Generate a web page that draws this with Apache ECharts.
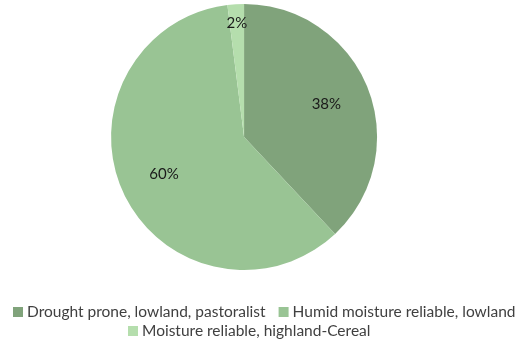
<!DOCTYPE html>
<html><head><meta charset="utf-8">
<script src="https://cdn.jsdelivr.net/npm/echarts@6/dist/echarts.min.js"></script>
<style>html,body{margin:0;padding:0;background:#fff}#c{width:516px;height:345px}</style>
</head><body><div id="c"></div>
<script>
const categories = ["Drought prone, lowland, pastoralist", "Humid moisture reliable, lowland", "Moisture reliable, highland-Cereal"];
const values = [38, 60, 2];
const colors = ["#80A37B", "#99C494", "#B5DEAD"];

const FONT = "Lato";
const center = ['47.3%', '39.7%'];
const R = 133;
const data = categories.map((c, i) => ({ name: c, value: values[i], itemStyle: { color: colors[i] } }));
const labelFmt = p => p.value + '%';
function overlay(inner, show) {
  return {
    type: 'pie', center, radius: [inner, R], startAngle: 90, clockwise: true,
    silent: true, legendHoverLink: false,
    data: categories.map((c, i) => ({
      name: c, value: values[i],
      itemStyle: { color: 'rgba(0,0,0,0)' },
      label: { show: show[i] }
    })),
    label: { position: 'inside', formatter: labelFmt, color: '#1a1a1a', fontSize: 15, fontFamily: FONT },
    labelLine: { show: false }, emphasis: { disabled: true }
  };
}
const legendBase = {
  orient: 'horizontal', padding: 0, width: 515,
  itemWidth: 10, itemHeight: 10, itemGap: 13,
  icon: 'rect',
  textStyle: { fontSize: 15.5, color: '#404040', fontFamily: FONT, padding: [0, 0, 0, -1] }
};
const chart = echarts.init(document.getElementById('c'), null, { renderer: 'canvas' });
chart.setOption({
  animation: false,
  color: colors,
  legend: [
    Object.assign({}, legendBase, { left: 13, top: 304, data: categories.slice(0, 2) }),
    Object.assign({}, legendBase, { left: 128, top: 323, data: categories.slice(2) })
  ],
  series: [
    {
      type: 'pie', center, radius: [0, R], startAngle: 90, clockwise: true,
      data, label: { show: false }, labelLine: { show: false },
      itemStyle: { borderColor: '#fff', borderWidth: 0 }
    },
    overlay(38, [true, true, false]),
    overlay(90, [false, false, true])
  ]
});
</script></body></html>
